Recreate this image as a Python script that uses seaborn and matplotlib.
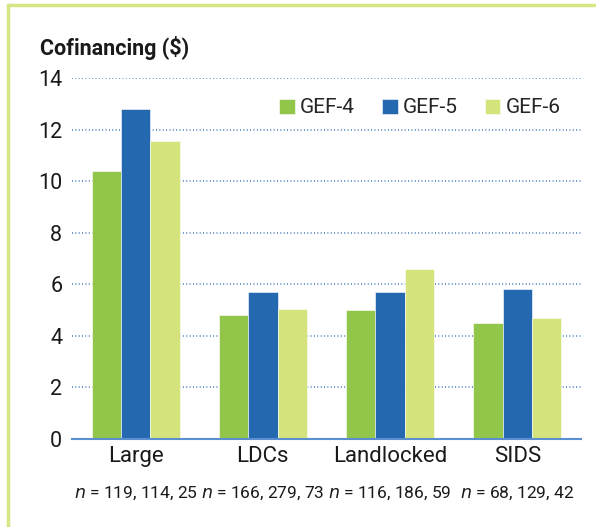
import matplotlib
matplotlib.use("Agg")
import matplotlib.pyplot as plt
import matplotlib.transforms as mtransforms
from matplotlib.lines import Line2D
import numpy as np
import pandas as pd
import seaborn as sns

# data
regions = ["Large", "LDCs", "Landlocked", "SIDS"]
cycles = ["GEF-4", "GEF-5", "GEF-6"]
gef4 = [10.4, 4.8, 5.0, 4.5]
gef5 = [12.8, 5.7, 5.7, 5.8]
gef6 = [11.55, 5.05, 6.6, 4.7]
n_labels = ["119, 114, 25", "166, 279, 73", "116, 186, 59", "68, 129, 42"]
colors = ["#92c64a", "#2469b0", "#d5e37c"]

df = pd.DataFrame({
    "region": regions * 3,
    "cycle": [c for c in cycles for _ in regions],
    "value": gef4 + gef5 + gef6,
})

sns.set_style("white")
plt.rcParams["font.family"] = ["Roboto", "DejaVu Sans"]

fig = plt.figure(figsize=(5.96, 5.27), dpi=100)
ax = fig.add_axes([72 / 596, 88 / 527, 509 / 596, 361 / 527])

sns.barplot(data=df, x="region", y="value", hue="cycle", order=regions,
            hue_order=cycles, palette=colors, width=0.69, saturation=1,
            edgecolor="white", linewidth=0.4, ax=ax)

ax.set_ylim(0, 14)
ax.set_xlim(-0.5, 3.5)
ax.set_yticks(range(0, 15, 2))
ax.set_xlabel("")
ax.set_ylabel("")
for y in range(2, 15, 2):
    ax.axhline(y, color="#2a6ab3", lw=1.1, ls=(0, (0.6, 1.6)), zorder=0)
ax.set_axisbelow(True)

for s in ["top", "right", "left"]:
    ax.spines[s].set_visible(False)
ax.spines["bottom"].set_color("#5b8fcf")
ax.spines["bottom"].set_linewidth(1.5)
ax.spines["bottom"].set_zorder(5)
ax.tick_params(axis="both", length=0, colors="#1a1a1a")
ax.tick_params(axis="y", pad=7, labelsize=15.5)
ax.tick_params(axis="x", pad=5, labelsize=16)

leg = ax.legend(loc="center right", bbox_to_anchor=(0.96, 0.917), ncol=3,
                frameon=False, fontsize=15, handlelength=0.75,
                handleheight=0.75, handletextpad=0.25, columnspacing=1.3,
                borderaxespad=0, borderpad=0)

# n = ... under each category
trans = mtransforms.blended_transform_factory(ax.transData, fig.transFigure)
for i, lab in enumerate(n_labels):
    ax.text(i, 1 - 493 / 527, r"$n$ = " + lab, transform=trans, ha="center",
            va="center", fontsize=12.5, color="#1a1a1a")

fig.text(40 / 596, 1 - 48 / 527, "Cofinancing ($)", fontsize=15.5,
         fontweight="bold", va="center", ha="left", color="#1a1a1a")

# light green frame on top and left
frame = "#d6e684"
fig.add_artist(Line2D([8 / 596, 1], [1 - 5 / 527, 1 - 5 / 527],
                      transform=fig.transFigure, color=frame, lw=2.5))
fig.add_artist(Line2D([8 / 596, 8 / 596], [0, 1 - 5 / 527],
                      transform=fig.transFigure, color=frame, lw=2.5))

fig.savefig("out.png", dpi=100)
